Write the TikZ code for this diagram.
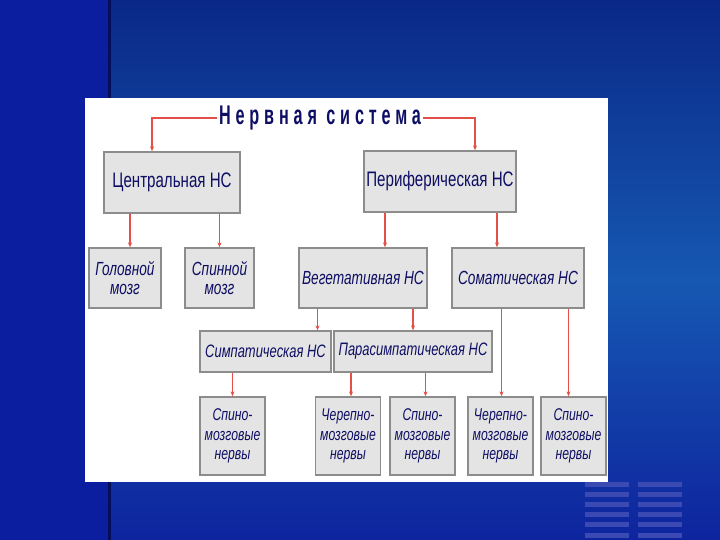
\documentclass[tikz,border=0pt]{standalone}
\usepackage{fontspec}
\setmainfont{Liberation Sans}[FakeStretch=0.72]
\newfontfamily\ttlfont{Liberation Sans}[FakeStretch=0.6,LetterSpace=18]
\usetikzlibrary{arrows.meta,calc}
\definecolor{BgLeft} {RGB}{12,30,160}
\definecolor{BgTop}  {RGB}{10,40,135}
\definecolor{BgMid}  {RGB}{22,88,178}
\definecolor{BgBot}  {RGB}{14,36,158}
\definecolor{BgLine} {RGB}{6,14,90}
\definecolor{BarCol} {RGB}{58,74,178}
\definecolor{TxtCol} {RGB}{14,14,100}
\definecolor{BoxFill}{RGB}{228,228,228}
\definecolor{BoxLine}{RGB}{140,140,140}
\definecolor{ArrCol} {RGB}{226,80,72}
\tikzset{
  nd_main/.style={
    rectangle, draw=BoxLine, fill=BoxFill, line width=1.3pt,
    align=center, text=TxtCol, inner sep=1pt,
    font=\fontsize{21}{23}\selectfont},
  nd_sub/.style={
    nd_main, font=\fontsize{19}{19}\selectfont\itshape},
  nd_nerve/.style={
    nd_main, minimum width=65pt, minimum height=78pt,
    font=\fontsize{17}{19.5}\selectfont\itshape},
  arr/.style={-{Stealth[length=5pt,width=4pt]},draw=ArrCol,line width=1.1pt},
}

\begin{document}
\begin{tikzpicture}[x=1pt,y=-1pt]
\useasboundingbox (0,0) rectangle (720,540);

% background
\fill[BgLeft] (0,0) rectangle (110,540);
\shade[top color=BgTop,bottom color=BgMid] (110,0) rectangle (720,280);
\shade[top color=BgMid,bottom color=BgBot] (110,280) rectangle (720,540);
\fill[BgLine] (108,0) rectangle (111,540);
\foreach \y in {482,492,502,512,522,533}
  {\fill[BarCol] (585,\y) rectangle (629,\y+5);
   \fill[BarCol] (638,\y) rectangle (682,\y+5);}
\fill[white] (85,98) rectangle (608,482);

\node[text=TxtCol,font=\ttlfont\fontsize{27}{27}\bfseries\selectfont,inner sep=2pt]
  at (320,118) (T){Нервная система};

%% level 1
\node[nd_main,minimum width=136pt,minimum height=61pt] at (172,182.5) (CNS){Центральная НС};
\node[nd_main,minimum width=152pt,minimum height=61pt] at (440,181.5) (PNS){Периферическая НС};

%% level 2
\node[nd_sub,minimum width=72pt,minimum height=60pt] at (125,278)   (GM){Головной\\мозг};
\node[nd_sub,minimum width=69pt,minimum height=60pt] at (219.5,278) (SM){Спинной\\мозг};
\node[nd_sub,minimum width=128pt,minimum height=60pt] at (363,278)  (VEG){Вегетативная НС};
\node[nd_sub,minimum width=132pt,minimum height=60pt] at (518,278)  (SOM){Соматическая НС};

%% level 3
\node[nd_sub,minimum width=131pt,minimum height=41pt,font=\fontsize{18}{18}\selectfont\itshape]
  at (265.5,351.5) (SYM){Симпатическая НС};
\node[nd_sub,minimum width=158pt,minimum height=41pt,font=\fontsize{18}{18}\selectfont\itshape]
  at (413,351.5)   (PAR){Парасимпатическая НС};

%% nerves
\node[nd_nerve] at (232.5,436) (N1){Спино-\\мозговые\\нервы};
\node[nd_nerve] at (348,436)   (N2){Черепно-\\мозговые\\нервы};
\node[nd_nerve] at (422.5,436) (N3){Спино-\\мозговые\\нервы};
\node[nd_nerve] at (500.5,436) (N4){Черепно-\\мозговые\\нервы};
\node[nd_nerve] at (573.5,436) (N5){Спино-\\мозговые\\нервы};

\draw[arr] (T.west) -| ([xshift=-20pt]CNS.north);
\draw[arr] (T.east) -| ([xshift=35pt]PNS.north);

\draw[arr] ([xshift=5pt]GM.north |- CNS.south) -- ([xshift=5pt]GM.north);
\draw[arr] (SM.north |- CNS.south) -- (SM.north);
\draw[arr] ([xshift=22pt]VEG.north |- PNS.south) -- ([xshift=22pt]VEG.north);
\draw[arr] ([xshift=-21pt]SOM.north |- PNS.south) -- ([xshift=-21pt]SOM.north);

\draw[arr] ([xshift=52pt]SYM.north |- VEG.south) -- ([xshift=52pt]SYM.north);
\draw[arr] (PAR.north |- VEG.south) -- (PAR.north);

\draw[arr] (N1.north |- SYM.south) -- (N1.north);
\draw[arr] ([xshift=3pt]N2.north |- PAR.south) -- ([xshift=3pt]N2.north);
\draw[arr] ([xshift=3pt]N3.north |- PAR.south) -- ([xshift=3pt]N3.north);
\draw[arr] ([xshift=1pt]N4.north |- SOM.south) -- ([xshift=1pt]N4.north);
\draw[arr] ([xshift=-5pt]N5.north |- SOM.south) -- ([xshift=-5pt]N5.north);

\end{tikzpicture}
\end{document}
